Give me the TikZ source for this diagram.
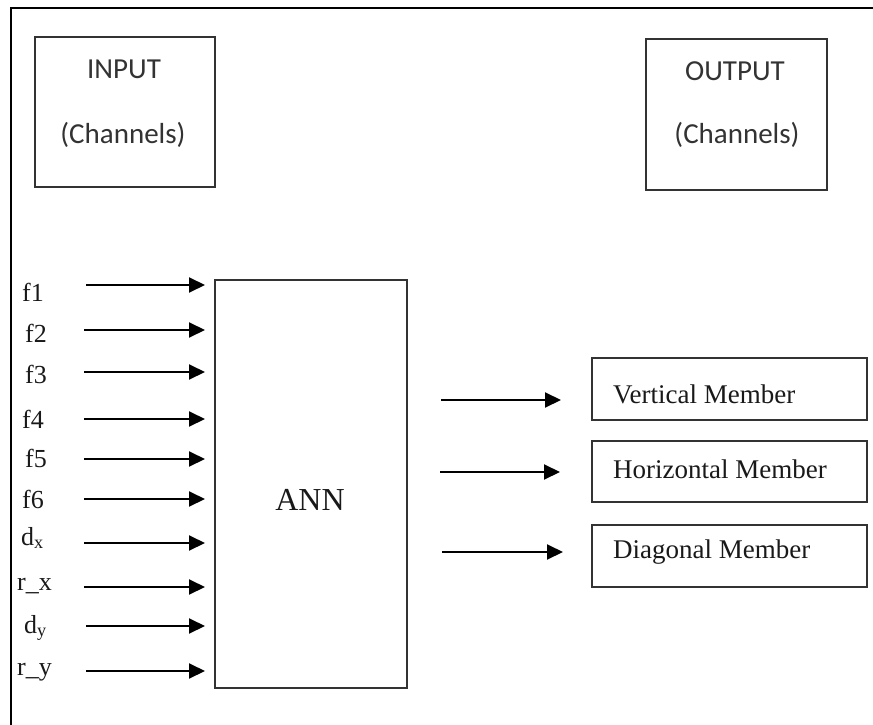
\documentclass[tikz,border=0pt]{standalone}
\usepackage{fontspec}
\setmainfont{Liberation Serif}
\newfontfamily\calib{Carlito}
\usetikzlibrary{arrows.meta}
\begin{document}
\begin{tikzpicture}[x=1pt,y=-1pt,
  boxstyle/.style={draw=black!80, line width=2pt, inner sep=0pt},
  chantext/.style={font=\calib\fontsize{29}{34}\selectfont, text=black!80, inner sep=0pt},
  lbl/.style={font=\fontsize{26}{30}\selectfont, anchor=base west, inner sep=0pt, text=black!90},
  outtext/.style={font=\fontsize{27}{32}\selectfont, anchor=base west, inner sep=0pt, text=black!90},
  arr/.style={line width=2pt, -{Triangle[length=16pt,width=15pt]}}
]
\useasboundingbox (0,0) rectangle (873,725);
% frame (top and left)
\draw[line width=2.6pt] (873,8) -- (11,8) -- (11,725);

% input / output channel boxes
\node[boxstyle, minimum width=180pt, minimum height=150pt] (inbox) at (125,112) {};
\node[chantext] (intitle) at (124,69) {INPUT};
\node[chantext] (insub) at (123,135) {(Channels)};

\node[boxstyle, minimum width=181pt, minimum height=151pt] (outbox) at (736.5,114.5) {};
\node[chantext] (outtitle) at (735,71) {OUTPUT};
\node[chantext] (outsub) at (737,135) {(Channels)};

% ANN box
\node[boxstyle, minimum width=192pt, minimum height=408pt] (ann) at (311,484) {};
\node[font=\fontsize{32}{36}\selectfont, text=black!90] (anntext) at (310,500) {ANN};

% input labels
\node[lbl] (l1) at (22,301) {f1};
\node[lbl] (l2) at (25,342) {f2};
\node[lbl] (l3) at (25,383) {f3};
\node[lbl] (l4) at (22,428) {f4};
\node[lbl] (l5) at (25,467) {f5};
\node[lbl] (l6) at (22,508) {f6};
\node[lbl] (l7) at (21,545) {d\textsubscript{x}};
\node[lbl] (l8) at (17,590) {r\_x};
\node[lbl] (l9) at (24,633) {d\textsubscript{y}};
\node[lbl] (l10) at (17,675) {r\_y};

% input arrows
\foreach \i/\y/\xs in {1/285/86, 2/330/84, 3/372/84, 4/419/84, 5/459/84, 6/499/84, 7/543/84, 8/587/84, 9/626/86, 10/671/86} {
  \coordinate (s\i) at (\xs,\y);
  \coordinate (e\i) at (205,\y);
  \draw[arr] (s\i) -- (e\i);
}

% output boxes
\node[boxstyle, minimum width=275pt, minimum height=62pt] (vm) at (729.5,389) {};
\node[boxstyle, minimum width=275pt, minimum height=61pt] (hm) at (729.5,471.5) {};
\node[boxstyle, minimum width=275pt, minimum height=62pt] (dm) at (729.5,556) {};
\node[outtext] (vmt) at (613,403) {Vertical Member};
\node[outtext] (hmt) at (613,478) {Horizontal Member};
\node[outtext] (dmt) at (613,558) {Diagonal Member};

% output arrows
\coordinate (o1s) at (441,400); \coordinate (o1e) at (561,400);
\coordinate (o2s) at (440,472); \coordinate (o2e) at (560,472);
\coordinate (o3s) at (442,552); \coordinate (o3e) at (563,552);
\draw[arr] (o1s) -- (o1e);
\draw[arr] (o2s) -- (o2e);
\draw[arr] (o3s) -- (o3e);
\end{tikzpicture}
\end{document}
